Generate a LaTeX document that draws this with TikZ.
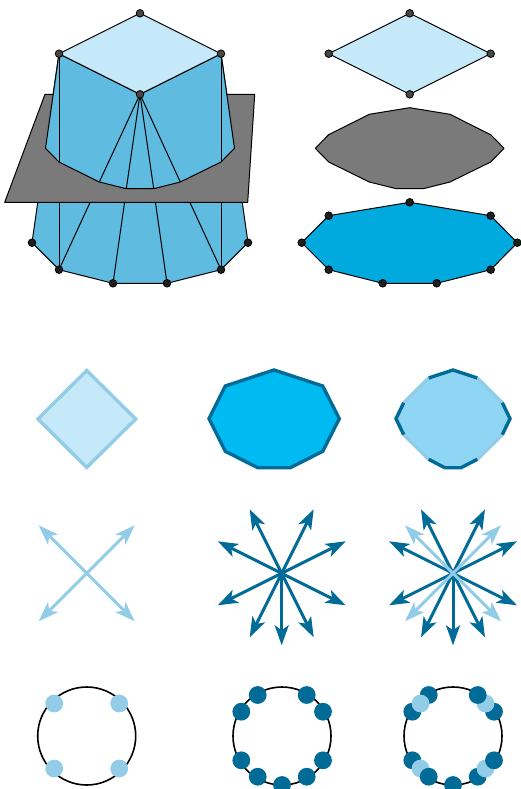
\documentclass[tikz,border=0pt]{standalone}
\usepackage{amsmath,amsthm,amssymb}
\usepackage{tikz}
\usetikzlibrary{arrows.meta}

\definecolor{paleblue}{HTML}{C6E9FA}
\definecolor{midblue}{HTML}{5FBBE0}
\definecolor{deepblue}{HTML}{00A9DE}
\definecolor{skyblue}{HTML}{00BAF2}
\definecolor{softblue}{HTML}{8FD6F5}
\definecolor{lightline}{HTML}{92CCE6}
\definecolor{darkline}{HTML}{006B96}
\definecolor{planegray}{HTML}{7A7A7A}

\tikzset{
  edge/.style={draw=black, line width=1pt, line join=round},
  topdot/.style={fill=black!72, draw=black, line width=0.8pt},
  lowdot/.style={fill=black!88, draw=black, line width=0.8pt},
  lightedge/.style={draw=lightline, line width=3.4pt},
  darkedge/.style={draw=darkline, line width=3.4pt},
  lightarrow/.style={lightline, line width=3pt, -{Stealth[length=20pt,width=14pt,inset=5pt]}},
  darkarrow/.style={darkline, line width=3pt, -{Stealth[length=20pt,width=14pt,inset=5pt]}},
}

\begin{document}
\begin{tikzpicture}[x=1pt, y=-1pt]
    \useasboundingbox (0, 0) rectangle (520, 789);

    % Corners of the frustum
    \coordinate (tN) at (140, 13.3);
    \coordinate (tE) at (221, 53.7);
    \coordinate (tS) at (140, 94.3);
    \coordinate (tW) at (59, 53.7);
    \coordinate (bL) at (32, 242.7);
    \coordinate (bA) at (59, 269.7);
    \coordinate (bB) at (113, 283.3);
    \coordinate (bC) at (167, 283.3);
    \coordinate (bD) at (221, 269.7);
    \coordinate (bR) at (248, 242.7);

    % Lower part of the frustum, behind the plane
    \draw[edge, fill=midblue] (tW) -- (tS) -- (tE) -- (bR) -- (bD) -- (bC) -- (bB) -- (bA) -- (bL) -- cycle;
    \draw[edge] (tW) -- (bA);
    \draw[edge] (tE) -- (bD);
    \foreach \p in {bA, bB, bC, bD} {
        \draw[edge] (tS) -- (\p);
    }

    % Cutting plane
    \draw[edge, fill=planegray] (45, 94.3) -- (254.7, 94.3) -- (247.7, 202.3) -- (4.7, 202.3) -- cycle;

    % Upper part of the frustum, in front of the plane
    \draw[edge, fill=midblue] (tW) -- (tS) -- (tE) -- (234.5, 148.3) -- (221, 162) -- (180.3, 182) -- (153.7, 188.7) -- (126.3, 188.7) -- (99.3, 182) -- (59, 162) -- (45.5, 148.3) -- cycle;
    \draw[edge] (tW) -- (59, 162);
    \draw[edge] (tE) -- (221, 162);
    \draw[edge] (tS) -- (99.3, 182);
    \draw[edge] (tS) -- (126.3, 188.7);
    \draw[edge] (tS) -- (153.7, 188.7);
    \draw[edge] (tS) -- (180.3, 182);
    \draw[edge, fill=paleblue] (tN) -- (tE) -- (tS) -- (tW) -- cycle;

    % Vertices of the frustum
    \foreach \p in {tN, tE, tS, tW} {
        \filldraw[topdot] (\p) circle (3.8);
    }
    \foreach \p in {bL, bA, bB, bC, bD, bR} {
        \filldraw[lowdot] (\p) circle (3.8);
    }

    % The three slices side by side
    \draw[edge, fill=paleblue] (409.7, 13.3) -- (490.7, 53.7) -- (409.7, 94.3) -- (328.7, 53.7) -- cycle;
    \foreach \x/\y in {409.7/13.3, 490.7/53.7, 409.7/94.3, 328.7/53.7} {
        \filldraw[topdot] (\x, \y) circle (3.8);
    }
    \draw[edge, fill=planegray] (409.7, 107.7) -- (450, 114.3) -- (490.7, 134.7) -- (504, 148.3) -- (490.7, 162) -- (450, 182) -- (423.3, 188.7) -- (396.3, 188.7) -- (369.3, 182) -- (328.7, 162) -- (315.3, 148.3) -- (328.7, 134.7) -- (369.3, 114.3) -- cycle;
    \draw[edge, fill=deepblue] (409.7, 202.3) -- (490.7, 215.7) -- (517.3, 242.7) -- (490.7, 269.7) -- (436.7, 283.3) -- (382.7, 283.3) -- (328.7, 269.7) -- (301.7, 242.7) -- (328.7, 215.7) -- cycle;
    \foreach \x/\y in {409.7/202.3, 490.7/215.7, 517.3/242.7, 490.7/269.7, 436.7/283.3, 382.7/283.3, 328.7/269.7, 301.7/242.7, 328.7/215.7} {
        \filldraw[lowdot] (\x, \y) circle (3.8);
    }

    % Second row: filled polygons
    \draw[lightedge, fill=paleblue] (86.7, 370.5) -- (135.7, 419) -- (86.7, 467.5) -- (38, 419) -- cycle;
    \draw[darkedge, fill=skyblue, line join=miter] (274, 370) -- (322.7, 386) -- (339.3, 418.7) -- (322.7, 451.3) -- (290.3, 467.7) -- (257.7, 467.7) -- (225.3, 451.3) -- (209, 418.7) -- (225.3, 386) -- cycle;

    % Summed polygon, its edges coloured by origin
    \fill[softblue] (453, 370) -- (477.3, 378) -- (502.3, 402.7) -- (510, 418.7) -- (502.3, 434.7) -- (477.3, 459.3) -- (461, 467.7) -- (444.7, 467.7) -- (428.7, 459.3) -- (403.7, 434.7) -- (396, 418.7) -- (403.7, 402.7) -- (428.7, 378) -- cycle;
    \draw[lightedge] (477.3, 378) -- (502.3, 402.7);
    \draw[lightedge] (502.3, 434.7) -- (477.3, 459.3);
    \draw[lightedge] (428.7, 459.3) -- (403.7, 434.7);
    \draw[lightedge] (403.7, 402.7) -- (428.7, 378);
    \draw[darkedge] (428.7, 378) -- (453, 370) -- (477.3, 378);
    \draw[darkedge] (502.3, 402.7) -- (510, 418.7) -- (502.3, 434.7);
    \draw[darkedge] (477.3, 459.3) -- (461, 467.7) -- (444.7, 467.7) -- (428.7, 459.3);
    \draw[darkedge] (403.7, 434.7) -- (396, 418.7) -- (403.7, 402.7);

    % Third row: normal fans
    \coordinate (fanA) at (86.7, 573.3);
    \coordinate (fanB) at (281.7, 573.3);
    \coordinate (fanC) at (453, 573.3);
    \foreach \dx/\dy in {-48/-48, 48/-48, 48/48, -48/48} {
        \draw[lightarrow] (fanA) -- ++(\dx, \dy);
    }
    \foreach \dx/\dy in {-32/-64, 32/-64, 64/-32, 64/32, 32/64, 0/72, -32/64, -64/32, -64/-32} {
        \draw[darkarrow] (fanB) -- ++(\dx, \dy);
        \draw[darkarrow] (fanC) -- ++(\dx, \dy);
    }
    \foreach \dx/\dy in {-48/-48, 48/-48, 48/48, -48/48} {
        \draw[lightarrow] (fanC) -- ++(\dx, \dy);
    }

    % Fourth row: points on the circle
    \draw[line width=1.6pt] (86.7, 736) circle (49);
    \draw[line width=1.6pt] (282, 736) circle (49);
    \draw[line width=1.6pt] (453, 736) circle (49);
    \foreach \dx/\dy in {-32.5/-32.5, 32.5/-32.5, 32.5/32.5, -32.5/32.5} {
        \fill[lightline] (86.7+\dx, 736+\dy) circle (8.9);
    }
    \foreach \dx/\dy in {-24.3/-41, 24.7/-41, 41/-24.3, 41/24.3, 24.7/40.7, 0/49, -24.3/40.7, -40.7/24.3, -40.7/-24.3} {
        \fill[darkline] (282+\dx, 736+\dy) circle (8.9);
    }

    % Light points sit between two layers of dark ones
    \foreach \dx/\dy in {41/-24.3, 24.7/40.7, -40.7/24.3, -40.7/-24.3, -24.3/-41} {
        \fill[darkline] (453+\dx, 736+\dy) circle (8.9);
    }
    \foreach \dx/\dy in {-32.5/-32.5, 32.5/-32.5, 32.5/32.5, -32.5/32.5} {
        \fill[lightline] (453+\dx, 736+\dy) circle (8.9);
    }
    \foreach \dx/\dy in {24.7/-41, 41/24.3, -24.3/40.7, 0/49} {
        \fill[darkline] (453+\dx, 736+\dy) circle (8.9);
    }
\end{tikzpicture}
\end{document}
